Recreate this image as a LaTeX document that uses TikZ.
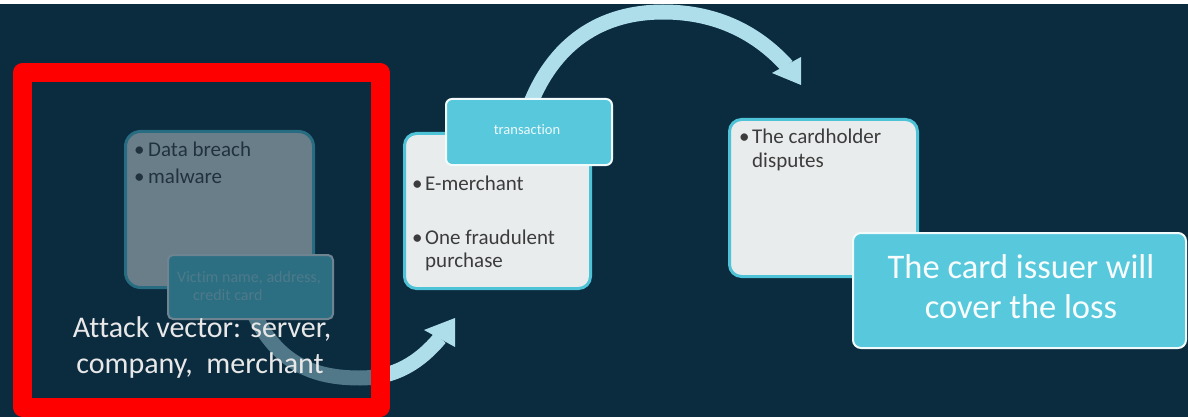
\documentclass[tikz,border=0pt]{standalone}
\usepackage{fontspec}
\setmainfont{Carlito}[Ligatures=NoCommon]
\definecolor{navy}{HTML}{0B2B3F}
\definecolor{boxwhite}{HTML}{E9ECED}
\definecolor{cyanbox}{HTML}{58C8DC}
\definecolor{cyanline}{HTML}{4EC3D7}
\definecolor{arrowblue}{HTML}{ADDEEA}
\definecolor{bodytext}{HTML}{3C3C3C}
\definecolor{victimtext}{HTML}{A8E2EC}
\definecolor{lighttext}{HTML}{E8E8E8}
\begin{document}
\begin{tikzpicture}[x=1pt,y=-1pt,
  whitebox/.style={draw=cyanline,line width=3pt,fill=boxwhite,rounded corners=12pt,anchor=north west,inner sep=0pt},
  cyanbox/.style={draw=white!92!cyanbox,line width=2pt,fill=cyanbox,rounded corners=6pt,anchor=north west,inner sep=0pt},
  txt/.style={inner sep=0pt,anchor=base west,text=bodytext,font=\fontsize{21}{23}\selectfont},
  arrowline/.style={draw=arrowblue,line width=15pt},
  ahead/.style={fill=arrowblue}
]
\useasboundingbox (0,0) rectangle (1188,417);
\fill[navy] (0,0) rectangle (1188,417);
\fill[white] (0,0) rectangle (1188,4);

% top arrow
\coordinate (a1s) at (528,110);
\coordinate (a1p) at (663,12);
\coordinate (a1e) at (787,66);
\draw[arrowline] (a1s) .. controls (553,42) and (602,12) .. (a1p) .. controls (718,12) and (758,34) .. (a1e);
\fill[ahead] (772,73) -- (801,57) -- (801,85) -- cycle;

% bottom arrow
\coordinate (a2s) at (250,305);
\coordinate (a2m) at (360,378);
\coordinate (a2e) at (440,338);
\draw[arrowline] (a2s) .. controls (275,365) and (315,378) .. (a2m) .. controls (395,378) and (420,362) .. (a2e);
\fill[ahead] (424,330) -- (455,347) -- (455,318) -- cycle;

% left group
\node[whitebox,rounded corners=15pt,minimum width=188pt,minimum height=156pt] (g) at (124,130) {};
\node[txt] (gb1) at (134,156) {•};
\node[txt] (gt1) at (148,156) {Data breach};
\node[txt] (gb2) at (134,183) {•};
\node[txt] (gt2) at (148,183) {malware};
\node[cyanbox,rounded corners=5pt,minimum width=165pt,minimum height=64pt] (v) at (167,254) {};
\node[txt,text=victimtext,font=\fontsize{16}{18}\selectfont] (vt1) at (177,282) {Victim name, address,};
\node[txt,text=victimtext,font=\fontsize{16}{18}\selectfont] (vt2) at (193,300) {credit card};

\fill[navy,opacity=0.57] (32,83) rectangle (371,398);

\node[inner sep=0pt,anchor=base,text=lighttext,font=\fontsize{30}{36}\selectfont] (at1) at (202,337) {Attack vector: server,};
\node[inner sep=0pt,anchor=base,text=lighttext,font=\fontsize{30}{36}\selectfont] (at2) at (200,373) {company, \ merchant};

\draw[red,line width=19pt,line join=round] (22.5,72.5) rectangle (380,407);

% middle
\node[whitebox,minimum width=186pt,minimum height=155pt] (b2) at (403,132) {};
\node[cyanbox,minimum width=166pt,minimum height=66pt] (t) at (445,98) {};
\node[inner sep=0pt,anchor=base,text=white!90!cyanbox,font=\fontsize{14.5}{16}\selectfont] (tt) at (527,135) {transaction};
\node[txt] (eb1) at (412,190) {•};
\node[txt] (et1) at (425,190) {E-merchant};
\node[txt] (eb2) at (412,244) {•};
\node[txt] (et2) at (425,244) {One fraudulent};
\node[txt] (et3) at (425,267) {purchase};

% right
\node[whitebox,minimum width=188pt,minimum height=157pt] (b3) at (728,118) {};
\node[txt] (cb1) at (739,143) {•};
\node[txt] (ct1) at (752,143) {The cardholder};
\node[txt] (ct2) at (752,167) {disputes};
\node[cyanbox,rounded corners=8pt,minimum width=333pt,minimum height=115pt] (b4) at (852,232) {};
\node[inner sep=0pt,anchor=base,text=white!96!cyanbox,font=\fontsize{34.5}{40}\selectfont] (it1) at (1021,278) {The card issuer will};
\node[inner sep=0pt,anchor=base,text=white!96!cyanbox,font=\fontsize{34.5}{40}\selectfont] (it2) at (1021,318) {cover the loss};
\end{tikzpicture}
\end{document}
